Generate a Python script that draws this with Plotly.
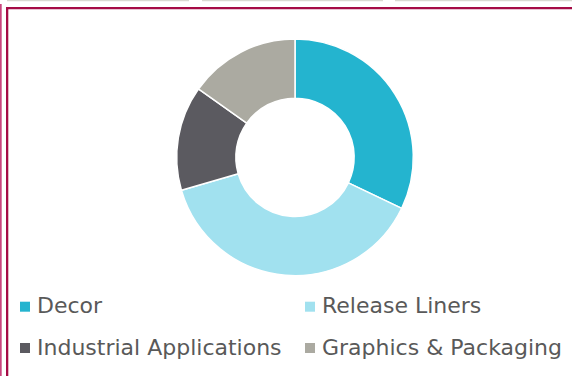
import plotly.graph_objects as go

# Share of market by application segment (%)
segments = ["Decor", "Release Liners", "Industrial Applications", "Graphics & Packaging"]
shares = [32.1, 38.4, 14.3, 15.2]
colors = ["#24B4CF", "#A1E1EF", "#5B5A60", "#ABAAA1"]

W, H = 572, 376


def px_x(x):
    return x / W


def px_y(y):
    return 1 - y / H


fig = go.Figure(
    go.Pie(
        labels=segments,
        values=shares,
        hole=0.5,
        sort=False,
        direction="clockwise",
        rotation=0,
        marker=dict(colors=colors, line=dict(color="white", width=1.5)),
        textinfo="none",
        hoverinfo="label+percent",
        domain=dict(x=[px_x(295 - 118.3), px_x(295 + 118.3)],
                    y=[px_y(157.3 + 118.3), px_y(157.3 - 118.3)]),
        showlegend=False,
    )
)

shapes = []
annotations = []

# Two-column legend laid out under the donut
col_swatch = [20, 305]
col_text = [35, 319.5]
row_center = [306.7, 348.0]
for i, (name, col) in enumerate(zip(segments, colors)):
    r, c = divmod(i, 2)
    x0 = col_swatch[c]
    yc = row_center[r]
    shapes.append(dict(type="rect", xref="paper", yref="paper",
                       x0=px_x(x0), x1=px_x(x0 + 10),
                       y0=px_y(yc + 5), y1=px_y(yc - 5),
                       fillcolor=col, line=dict(width=0)))
    annotations.append(dict(text=name, xref="paper", yref="paper",
                            x=px_x(col_text[c]), y=px_y(yc - 1),
                            xanchor="left", yanchor="middle", showarrow=False,
                            font=dict(family="DejaVu Sans", size=22, color="#595959")))

# Frame: outer pink rule, maroon panel border, grey tab strips along the top
shapes.append(dict(type="rect", xref="paper", yref="paper",
                   x0=0, x1=px_x(1.7), y0=0, y1=px_y(4),
                   fillcolor="#C9457D", line=dict(width=0)))
shapes.append(dict(type="rect", xref="paper", yref="paper",
                   x0=px_x(6), x1=px_x(8.3), y0=0, y1=px_y(7),
                   fillcolor="#A50B45", line=dict(width=0)))
shapes.append(dict(type="rect", xref="paper", yref="paper",
                   x0=px_x(6), x1=1, y0=px_y(9.3), y1=px_y(7),
                   fillcolor="#A50B45", line=dict(width=0)))
for a, b in [(7, 189), (202, 383), (395, 572)]:
    shapes.append(dict(type="rect", xref="paper", yref="paper",
                       x0=px_x(a), x1=px_x(b), y0=px_y(1.2), y1=1,
                       fillcolor="#D9D9D2", line=dict(width=0)))

fig.update_layout(
    width=W, height=H,
    margin=dict(l=0, r=0, t=0, b=0),
    paper_bgcolor="white",
    plot_bgcolor="white",
    shapes=shapes,
    annotations=annotations,
)

fig.write_html("out.html")
